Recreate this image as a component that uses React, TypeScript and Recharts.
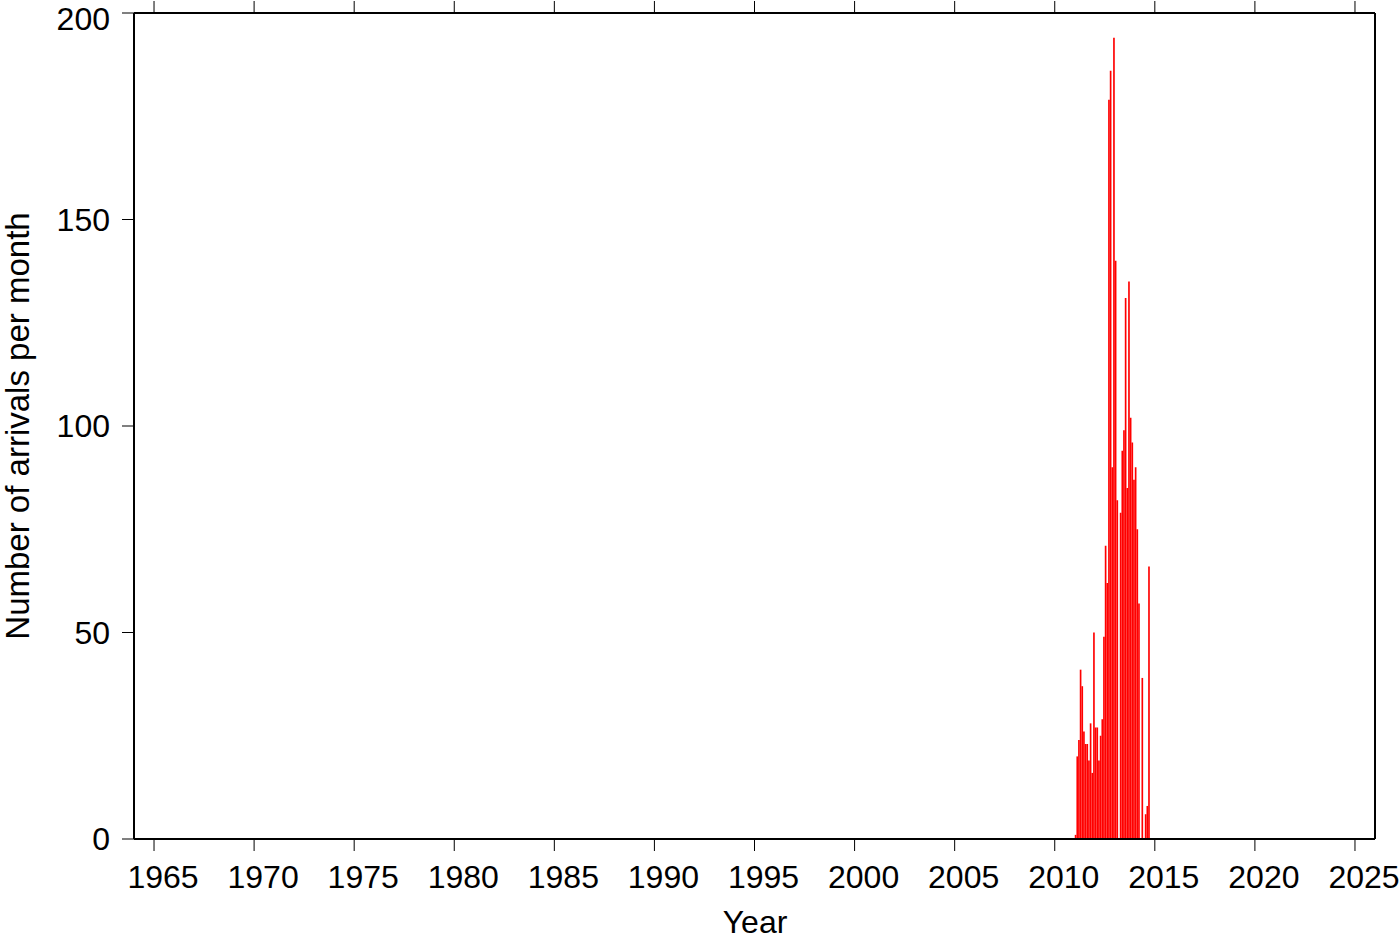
import { BarChart, Bar, XAxis, YAxis } from "recharts";

// monthly arrival counts, Jan 2011 .. Sep 2014
const startYear = 2011;
const counts = [
  1, 20, 24, 41, 37, 26, 23, 23, 19, 28, 16, 50,
  27, 27, 19, 25, 29, 49, 71, 62, 179, 186, 90, 194,
  140, 82, 0, 79, 94, 99, 131, 85, 135, 102, 96, 87,
  90, 75, 57, 0, 39, 0, 6, 8, 66,
];
const yearTicks = [1965, 1970, 1975, 1980, 1985, 1990, 1995, 2000, 2005, 2010, 2015, 2020, 2025];
const countTicks = [0, 50, 100, 150, 200];

const data = counts.map((n, i) => ({ t: startYear + (i + 0.5) / 12, n }));

const font = "'Liberation Sans', Helvetica, Arial, sans-serif";
const tickStyle = { fontSize: 32, fill: "#000", fontFamily: font };
const line = { stroke: "#000", strokeWidth: 2 };

export default function App() {
  return (
    <div style={{ position: "absolute", left: 0, top: 0, width: 1400, height: 942, background: "#fff", fontFamily: font, overflow: "hidden" }}>
      <BarChart
        width={1400}
        height={942}
        data={data}
        margin={{ top: 3, right: 13, bottom: 43, left: 54 }}
        barCategoryGap={0}
      >
        <XAxis
          dataKey="t"
          type="number"
          domain={[1964, 2026]}
          ticks={yearTicks}
          allowDataOverflow
          height={60}
          tickSize={12}
          tickMargin={14}
          tick={{ ...tickStyle, dx: 9 }}
          axisLine={line}
          tickLine={{ stroke: "#000", strokeWidth: 1 }}
        />
        <XAxis
          xAxisId="top"
          orientation="top"
          dataKey="t"
          type="number"
          domain={[1964, 2026]}
          ticks={yearTicks}
          allowDataOverflow
          height={10}
          tickSize={12}
          tickFormatter={() => ""}
          axisLine={line}
          tickLine={{ stroke: "#000", strokeWidth: 1 }}
        />
        <YAxis
          type="number"
          domain={[0, 200]}
          ticks={countTicks}
          width={80}
          tickSize={12}
          tickMargin={12}
          tick={tickStyle}
          axisLine={line}
          tickLine={{ stroke: "#000", strokeWidth: 1 }}
        />
        <YAxis
          yAxisId="right"
          orientation="right"
          type="number"
          domain={[0, 200]}
          ticks={countTicks}
          width={12}
          tickSize={12}
          tickFormatter={() => ""}
          axisLine={line}
          tickLine={{ stroke: "#000", strokeWidth: 1 }}
        />
        <Bar dataKey="n" fill="#ff0000" barSize={20 / 12} isAnimationActive={false} />
      </BarChart>
      <div style={{ position: "absolute", left: 755, top: 922, transform: "translate(-50%, -50%)", fontSize: 32, lineHeight: "32px" }}>
        Year
      </div>
      <div
        style={{
          position: "absolute",
          left: 17,
          top: 426,
          transform: "translate(-50%, -50%) rotate(-90deg)",
          fontSize: 33,
          lineHeight: "33px",
          whiteSpace: "nowrap",
        }}
      >
        Number of arrivals per month
      </div>
    </div>
  );
}
